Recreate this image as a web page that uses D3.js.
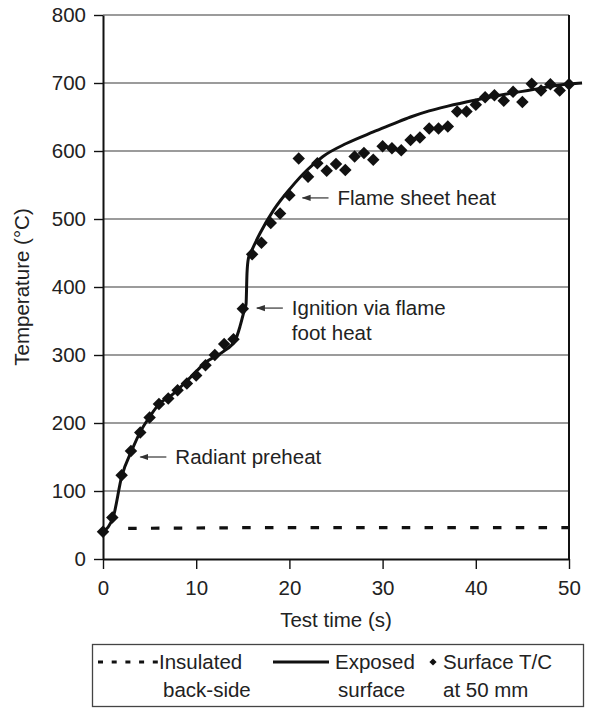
<!DOCTYPE html>
<html>
<head>
<meta charset="utf-8">
<script src="https://cdn.jsdelivr.net/npm/d3@7"></script>
<style>
  html, body { margin: 0; padding: 0; background: #fff; }
  svg { display: block; }
  text { font-family: "Liberation Sans", Arial, Helvetica, sans-serif; fill: #222; }
</style>
</head>
<body>
<svg id="chart" width="589" height="708"></svg>
<script>
// ---------- data ----------
const surfaceTime = [0,1,2,3,4,5,6,7,8,9,10,11,12,13,14,15,16,17,18,19,20,21,22,23,24,25,26,27,28,29,30,31,32,33,34,35,36,37,38,39,40,41,42,43,44,45,46,47,48,49,50];
const surfaceTemp = [40,61,123,159,186,208,228,236,248,258,270,285,300,316,323,368,448,465,494,508,535,589,562,582,571,581,572,592,597,587,607,604,601,616,620,633,633,636,658,658,668,679,682,674,687,672,699,689,698,689,698];

const exposedTime = [0,1.1,2,3.1,4,5,6.1,7.2,9.3,11.1,12.9,14.2,14.7,15.05,15.35,15.45,15.6,16,16.85,18.3,20.1,21.9,23.6,26.1,29,31,33,35,37,40,43,46,49,51.4];
const exposedTemp = [40,62,121,160,187,209,229,239,266,290,305,322,342,360,375,420,442,455,479,513,545,572,592,611,628,639,650,659,666,675,683,690,697,700];

const insulatedTime = [2.7, 15, 50];
const insulatedTemp = [45, 46, 46];

const xTicks = [0,10,20,30,40,50];
const yTicks = [0,100,200,300,400,500,600,700,800];

const annotations = [
  { lines: ["Radiant preheat"], t: 3.9, T: 150 },
  { lines: ["Ignition via flame", "foot heat"], t: 16.4, T: 369 },
  { lines: ["Flame sheet heat"], t: 21.3, T: 531 }
];

const legendLabels = [["Insulated","back-side"],["Exposed","surface"],["Surface T/C","at 50 mm"]];

// ---------- chart ----------
const svg = d3.select("#chart");
const x = d3.scaleLinear().domain([0, 50]).range([103, 569]);
const y = d3.scaleLinear().domain([0, 800]).range([559, 15]);

const FS = 20.5;

// grid
svg.append("g").selectAll("line").data(yTicks.filter(d => d > 0)).join("line")
  .attr("x1", x(0)).attr("x2", x(50))
  .attr("y1", d => y(d)).attr("y2", d => y(d))
  .attr("stroke", "#7a7a7a").attr("stroke-width", 1.4);

// right border
svg.append("line").attr("x1", x(50)).attr("x2", x(50)).attr("y1", y(800)).attr("y2", y(0))
  .attr("stroke", "#111").attr("stroke-width", 2);

// axes
const yAxis = d3.axisLeft(y).tickValues(yTicks).tickSize(9).tickSizeOuter(0).tickPadding(8);
const gy = svg.append("g").attr("transform", `translate(${x(0)},0)`).call(yAxis);
const xAxis = d3.axisBottom(x).tickValues(xTicks).tickSize(10).tickSizeOuter(0).tickPadding(9);
const gx = svg.append("g").attr("transform", `translate(0,${y(0)})`).call(xAxis);
[gx, gy].forEach(g => {
  g.select(".domain").attr("stroke", "#111").attr("stroke-width", 2);
  g.selectAll(".tick line").attr("stroke", "#111").attr("stroke-width", 1.4);
  g.selectAll(".tick text").attr("font-size", FS).attr("fill", "#222")
    .style("font-family", '"Liberation Sans", Arial, Helvetica, sans-serif');
});
gx.selectAll(".tick text").attr("dy", "0.85em");

// axis titles
svg.append("text").attr("x", (x(0) + x(50)) / 2).attr("y", 620).attr("dy", "0.35em")
  .attr("text-anchor", "middle").attr("font-size", FS).text("Test time (s)");
svg.append("text").attr("transform", `translate(22,${(y(0) + y(800)) / 2}) rotate(-90)`)
  .attr("dy", "0.35em").attr("text-anchor", "middle").attr("font-size", FS).text("Temperature (°C)");

// insulated dashed line
svg.append("path")
  .datum(insulatedTime.map((t, i) => [t, insulatedTemp[i]]))
  .attr("d", d3.line().x(d => x(d[0])).y(d => y(d[1])))
  .attr("fill", "none").attr("stroke", "#111").attr("stroke-width", 3.2)
  .attr("stroke-dasharray", "8.5,14.3");

// exposed surface line
svg.append("path")
  .datum(exposedTime.map((t, i) => [t, exposedTemp[i]]))
  .attr("d", d3.line().x(d => x(d[0])).y(d => y(d[1])).curve(d3.curveMonotoneX))
  .attr("fill", "none").attr("stroke", "#111").attr("stroke-width", 3);

// surface T/C diamonds
const diamond = d3.symbol(d3.symbolSquare, 78);
svg.append("g").selectAll("path")
  .data(surfaceTime.map((t, i) => [t, surfaceTemp[i]]))
  .join("path")
  .attr("d", diamond)
  .attr("transform", d => `translate(${x(d[0])},${y(d[1])}) rotate(45)`)
  .attr("fill", "#111");

// annotations
const defs = svg.append("defs");
defs.append("marker").attr("id", "arr").attr("viewBox", "0 0 10 10")
  .attr("refX", 9).attr("refY", 5).attr("markerWidth", 9).attr("markerHeight", 9)
  .attr("markerUnits", "userSpaceOnUse").attr("orient", "auto")
  .append("path").attr("d", "M0,1.5 L10,5 L0,8.5 Z").attr("fill", "#333");

annotations.forEach(a => {
  const tx = x(a.t), ty = y(a.T);
  svg.append("line").attr("x1", tx + 27).attr("y1", ty).attr("x2", tx + 1).attr("y2", ty)
    .attr("stroke", "#444").attr("stroke-width", 1.3).attr("marker-end", "url(#arr)");
  const t = svg.append("text").attr("x", tx + 36).attr("y", ty).attr("font-size", FS);
  a.lines.forEach((l, i) => {
    t.append("tspan").attr("x", tx + 36).attr("dy", i === 0 ? "0.35em" : "1.22em").text(l);
  });
});

// legend
const lg = svg.append("g");
lg.append("rect").attr("x", 92.5).attr("y", 644.5).attr("width", 491).attr("height", 62)
  .attr("fill", "none").attr("stroke", "#444").attr("stroke-width", 1.3);
const ly1 = 662, ly2 = 690;
lg.append("line").attr("x1", 98).attr("x2", 158).attr("y1", ly1).attr("y2", ly1)
  .attr("stroke", "#111").attr("stroke-width", 2.8).attr("stroke-dasharray", "5,8.7");
lg.append("line").attr("x1", 273).attr("x2", 329).attr("y1", ly1).attr("y2", ly1)
  .attr("stroke", "#111").attr("stroke-width", 2.8);
lg.append("path").attr("d", d3.symbol(d3.symbolSquare, 26))
  .attr("transform", `translate(433,${ly1}) rotate(45)`).attr("fill", "#111");
const lx = [[159, 163], [335, 338], [443, 443]];
legendLabels.forEach((lab, i) => {
  lg.append("text").attr("x", lx[i][0]).attr("y", ly1).attr("dy", "0.35em").attr("font-size", FS).text(lab[0]);
  lg.append("text").attr("x", lx[i][1]).attr("y", ly2).attr("dy", "0.35em").attr("font-size", FS).text(lab[1]);
});
</script>
</body>
</html>
